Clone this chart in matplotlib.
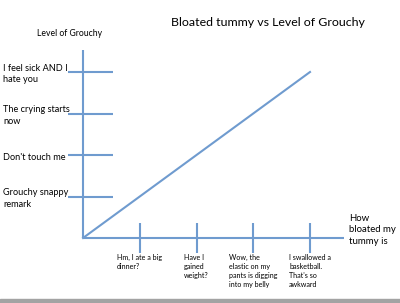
import matplotlib
matplotlib.use("Agg")
from matplotlib import pyplot as plt
from matplotlib.patches import Rectangle

# grouchy levels on the vertical axis, bottom to top
grouch_levels = [1, 2, 3, 4]
grouch_labels = ["Grouchy snappy\nremark", "Don't touch me", "The crying starts\nnow",
                 "I feel sick AND I\nhate you"]

# bloat stages on the horizontal axis
bloat_stages = [1, 2, 3, 4]
bloat_labels = ["Hm, I ate a big\ndinner?", "Have I\ngained\nweight?",
                "Wow, the\nelastic on my\npants is digging\ninto my belly",
                "I swallowed a\nbasketball.\nThat's so\nawkward"]

# the straight line
line_x = [0, 4]
line_y = [0, 4]

BLUE = "#6f9bcf"


def main():
  plt.rcParams['font.family'] = ['Lato', 'DejaVu Sans']
  fig = plt.figure(figsize=(4, 3.03), dpi=100)
  ax = fig.add_axes([0, 0, 1, 1])
  # pixel mapping: origin at (83, 238), x=4 at 310 px, y=4 at 72 px
  sx = (310 - 83) / 4.0
  sy = (238 - 72) / 4.0
  ax.set_xlim(-83 / sx, (400 - 83) / sx)
  ax.set_ylim(-(303 - 238) / sy, 238 / sy)
  ax.axis("off")

  # axes lines
  ax.plot([0, 0], [0, (238 - 50) / sy], color=BLUE, lw=1.5, solid_capstyle="butt")
  ax.plot([0, (344 - 83) / sx], [0, 0], color=BLUE, lw=1.5, solid_capstyle="butt")

  # y ticks
  ax.hlines(grouch_levels, -15 / sx, 30 / sx, color=BLUE, lw=1.5)
  for lvl, lab in zip(grouch_levels, grouch_labels):
    ax.text(-80 / sx, lvl - 2 / sy, lab, ha="left", va="center", fontsize=6.6,
            linespacing=1.4)

  # x ticks
  ax.vlines(bloat_stages, -15 / sy, 15 / sy, color=BLUE, lw=1.5)
  for st, lab in zip(bloat_stages, bloat_labels):
    ax.text(st, -16 / sy, lab, ha="center", va="top", multialignment="left",
            fontsize=5.1, linespacing=1.35)

  ax.plot(line_x, line_y, color=BLUE, lw=1.5)

  ax.text(70 / 400, 1 - 33 / 303, "Level of Grouchy", transform=ax.transAxes,
          ha="center", va="center", fontsize=6.2)
  ax.text(268 / 400, 1 - 22 / 303, "Bloated tummy vs Level of Grouchy",
          transform=ax.transAxes, ha="center", va="center", fontsize=8.9)
  ax.text(349 / 400, 1 - 230 / 303, "How\nbloated my\ntummy is", transform=ax.transAxes,
          ha="left", va="center", fontsize=6.9, linespacing=1.3)

  # grey strip at the bottom
  fig.patches.append(Rectangle((0, 0), 1, 4 / 303, transform=fig.transFigure,
                               color="#a3a3a3", zorder=-1))
  fig.savefig("out.png", dpi=100)


if __name__ == "__main__":
  main()
